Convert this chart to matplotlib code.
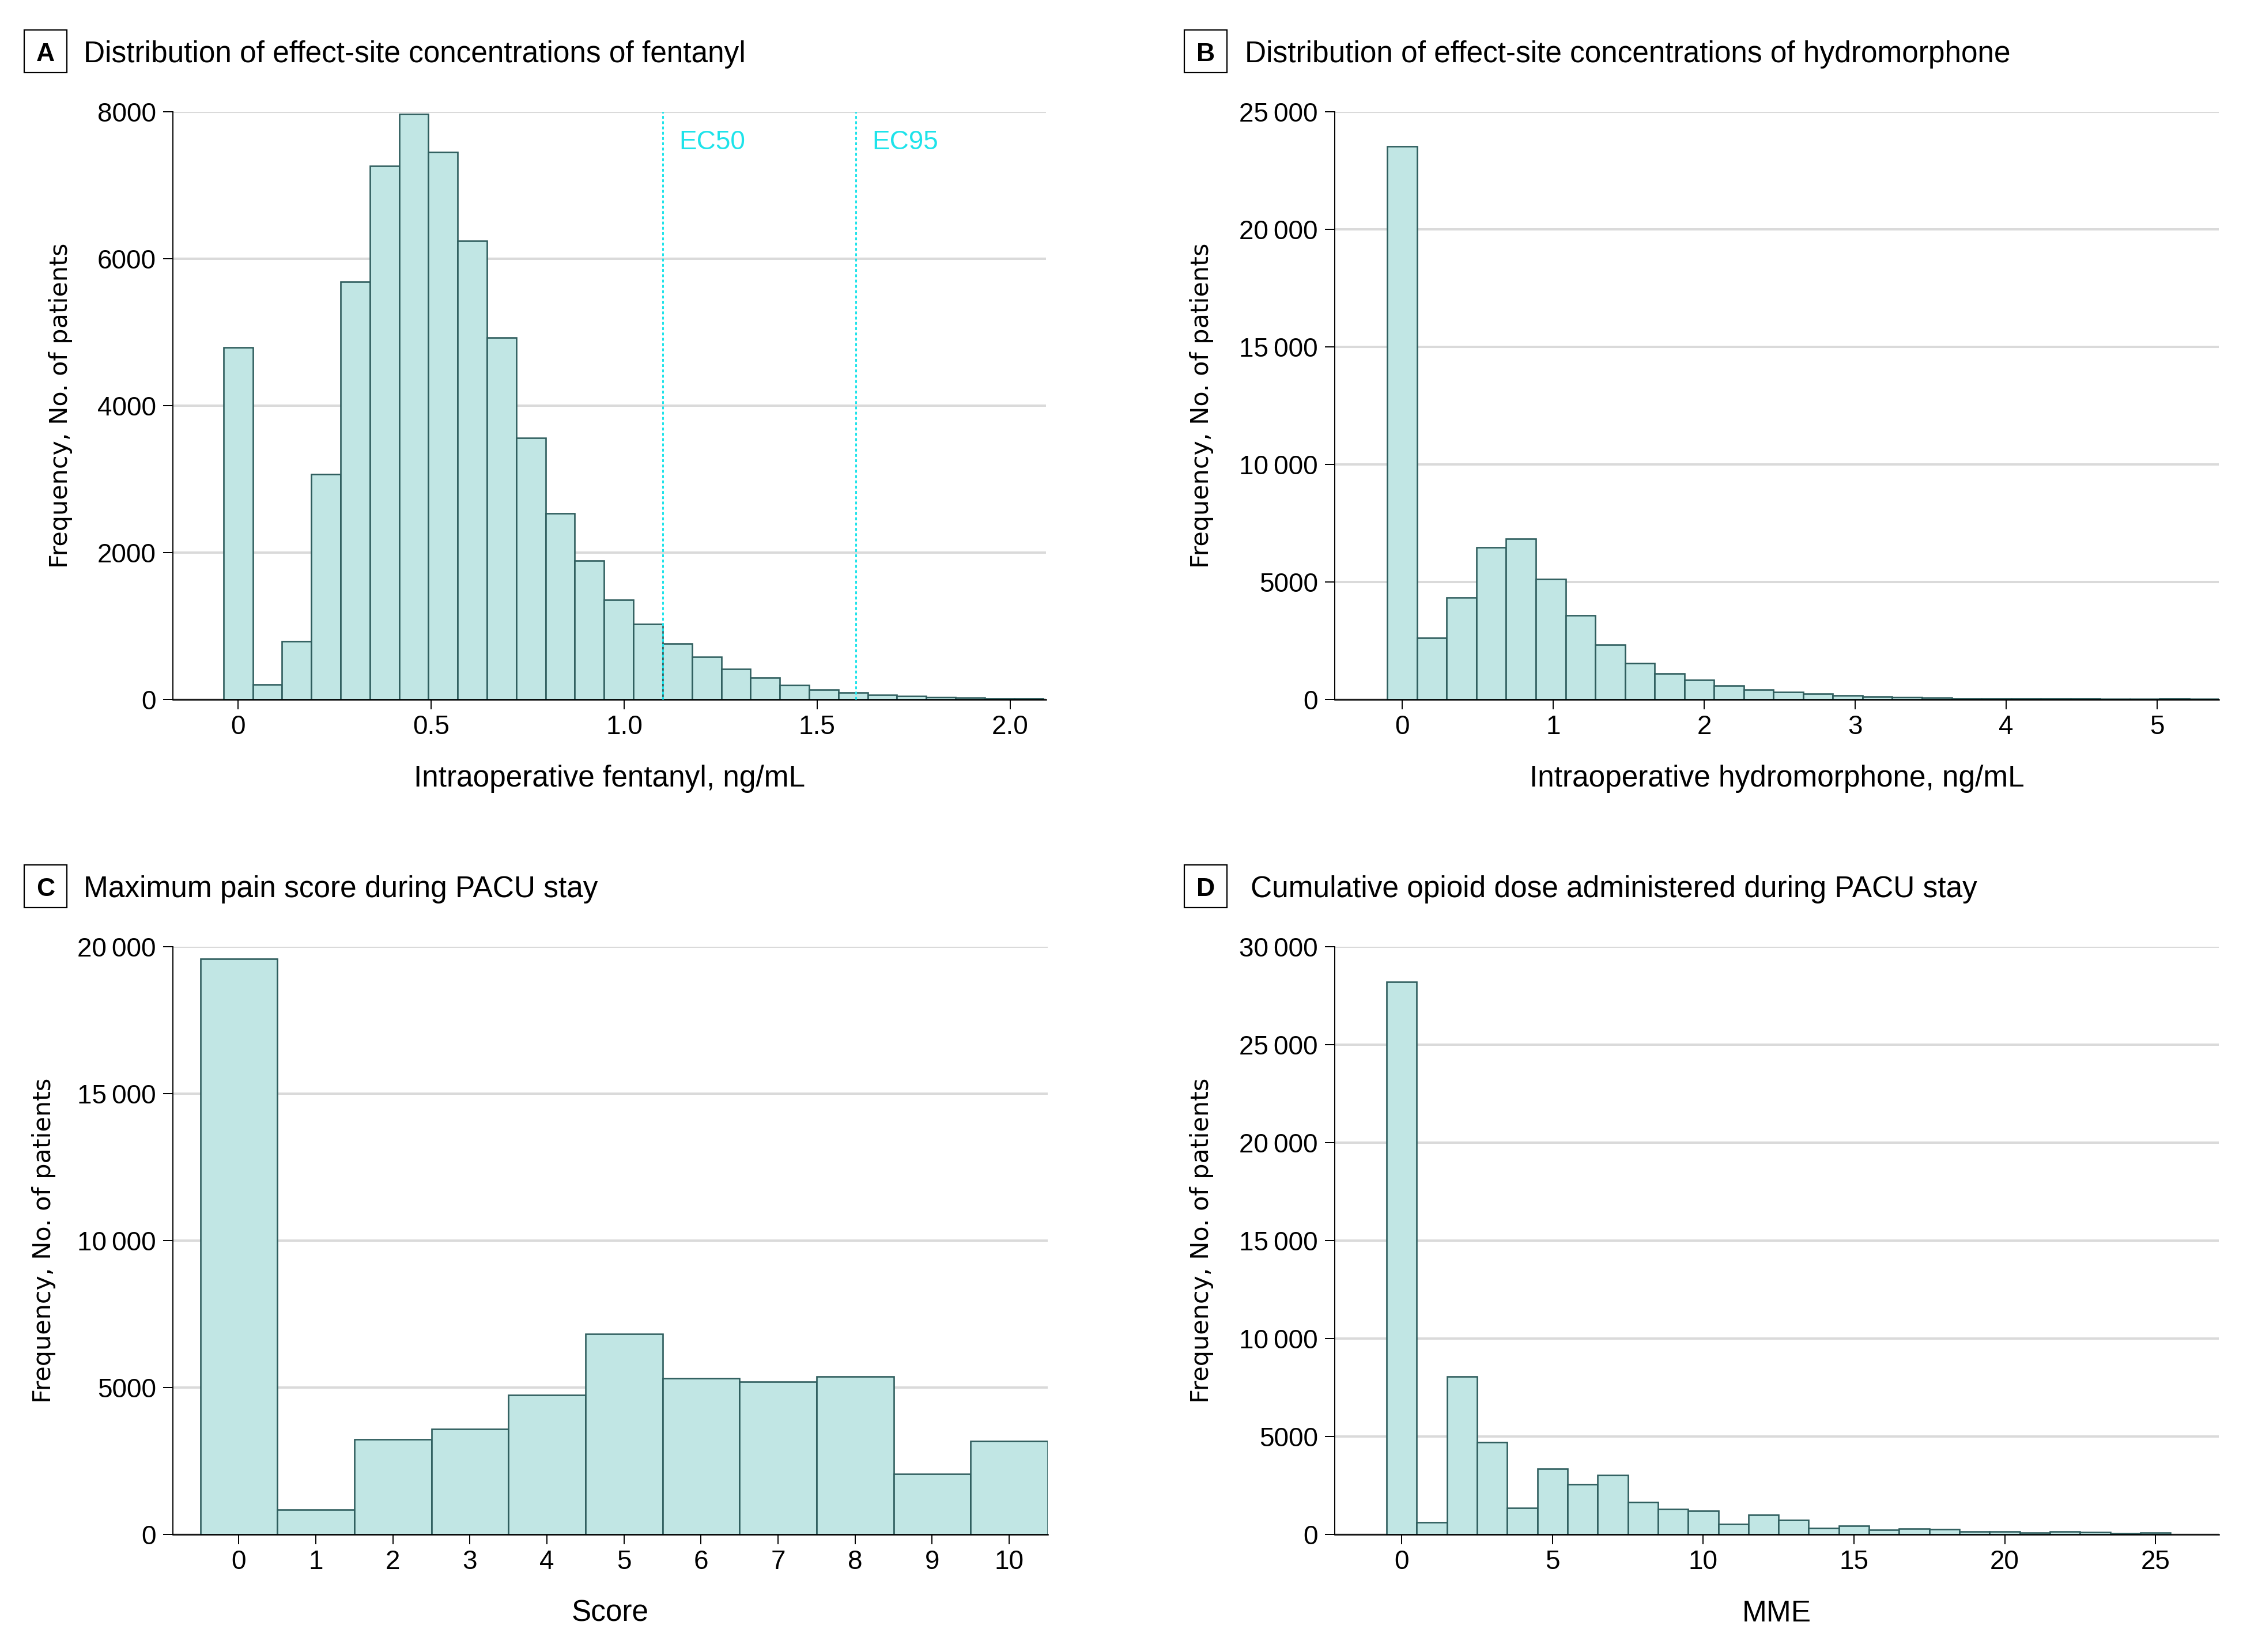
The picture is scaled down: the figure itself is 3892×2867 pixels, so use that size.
import matplotlib
matplotlib.use("Agg")
import matplotlib.pyplot as plt
import numpy as np
from matplotlib.patches import Rectangle

# ---------------- data ----------------
fentanyl_bin_width = 1.1 / 14.5
fentanyl_counts = [4790, 200, 790, 3063, 5685, 7259, 7965, 7448, 6245, 4923,
                   3559, 2531, 1890, 1357, 1029, 762, 584, 419, 296, 199,
                   134, 94, 65, 50, 31, 24, 16, 13]

hydromorphone_bin_width = 0.1967
hydromorphone_counts = [23530, 2620, 4330, 6470, 6840, 5120, 3580, 2320, 1550, 1095,
                        832, 585, 425, 311, 237, 180, 123, 106, 82, 50,
                        50, 60, 45, 45, 25, 30, 45, 20]

pain_scores = list(range(11))
pain_counts = [19580, 850, 3240, 3590, 4740, 6830, 5310, 5190, 5380, 2050, 3170]

mme_values = list(range(26))
mme_counts = [28220, 611, 8050, 4720, 1350, 3340, 2565, 3040, 1645, 1290,
              1210, 531, 995, 730, 314, 432, 226, 285, 275, 147,
              138, 79, 147, 108, 59, 79]

ec_values = [1.1, 1.6]
ec_labels = ["EC50", "EC95"]

titles = ["Distribution of effect-site concentrations of fentanyl",
          "Distribution of effect-site concentrations of hydromorphone",
          "Maximum pain score during PACU stay",
          "Cumulative opioid dose administered during PACU stay"]
letters = ["A", "B", "C", "D"]
xlabels = ["Intraoperative fentanyl, ng/mL",
           "Intraoperative hydromorphone, ng/mL",
           "Score", "MME"]
ylabel = "Frequency, No. of patients"

xticks_A = [0, 0.5, 1.0, 1.5, 2.0]
xticklabels_A = ["0", "0.5", "1.0", "1.5", "2.0"]
xticks_B = [0, 1, 2, 3, 4, 5]
xticks_C = list(range(11))
xticks_D = [0, 5, 10, 15, 20, 25]
yticks_A = [0, 2000, 4000, 6000, 8000]
yticks_B = [0, 5000, 10000, 15000, 20000, 25000]
yticks_C = [0, 5000, 10000, 15000, 20000]
yticks_D = [0, 5000, 10000, 15000, 20000, 25000, 30000]

# ---------------- style ----------------
W, H = 3892, 2867
SANS = ["Liberation Sans", "DejaVu Sans"]
FILL = "#C1E6E4"
EDGE = "#2F5E5E"
GRID = "#DADADA"
CYAN = "#1EE3EA"

fig = plt.figure(figsize=(W / 100, H / 100), dpi=100)


def fx(px):
    return px / W


def fy(py):
    return 1 - py / H


def fmt(v):
    s = f"{v:d}"
    if v >= 10000:
        s = s[:-3] + "\u2009" + s[-3:]
    return s


def make_axes(left, right, top, bottom):
    return fig.add_axes([fx(left), fy(bottom), (right - left) / W, (bottom - top) / H])


def style(ax, xlim, ylim, xticks, xticklabels, yticks):
    ax.set_xlim(xlim)
    ax.set_ylim(ylim)
    ax.set_xticks(xticks)
    ax.set_xticklabels(xticklabels)
    ax.set_yticks(yticks)
    ax.set_yticklabels([fmt(v) for v in yticks])
    for s in ["top", "right"]:
        ax.spines[s].set_visible(False)
    ax.spines["left"].set_linewidth(1.4)
    ax.spines["bottom"].set_linewidth(1.8)
    ax.tick_params(axis="both", length=12, width=1.4, labelsize=33, color="black")
    ax.tick_params(axis="x", pad=7)
    ax.tick_params(axis="y", pad=9)
    for lab in ax.get_xticklabels() + ax.get_yticklabels():
        lab.set_family(SANS)
    ax.yaxis.grid(True, color=GRID, lw=2.9)
    ax.xaxis.grid(False)
    ax.set_axisbelow(True)


def header(letter, title, box_left, title_left, top_off):
    fig.add_artist(Rectangle((fx(box_left), fy(126 + top_off)), 74 / W, 74 / H,
                             transform=fig.transFigure, fill=False,
                             ec="black", lw=1.6))
    fig.text(fx(box_left + 37), fy(106 + top_off), letter, fontsize=32,
             weight="bold", ha="center", va="baseline", family=SANS)
    fig.text(fx(title_left), fy(108 + top_off), title, fontsize=37,
             ha="left", va="baseline", family=SANS)


# panel geometry in pixels
rowA = (194, 1214)
rowC = (1643, 2663)
off = 1449
BAR_LW = 1.9

# ---- A ----
axA = make_axes(300, 1815, *rowA)
cA = np.arange(len(fentanyl_counts)) * fentanyl_bin_width
axA.bar(cA, fentanyl_counts, width=fentanyl_bin_width, color=FILL,
        edgecolor=EDGE, linewidth=BAR_LW, zorder=1)
style(axA, (-0.169, 2.093), (0, 8000), xticks_A, xticklabels_A, yticks_A)
for v, lab in zip(ec_values, ec_labels):
    axA.axvline(v, color=CYAN, lw=2.2, ls=(0, (1.6, 1.4)), zorder=3)
    axA.text(v + 0.042, 7490, lab, color=CYAN, fontsize=33, va="baseline",
             ha="left", family=SANS)

# ---- B ----
axB = make_axes(2316, 3850, *rowA)
cB = np.arange(len(hydromorphone_counts)) * hydromorphone_bin_width
axB.bar(cB, hydromorphone_counts, width=hydromorphone_bin_width, color=FILL,
        edgecolor=EDGE, linewidth=BAR_LW, zorder=1)
style(axB, (-0.447, 5.408), (0, 25000), xticks_B, [str(v) for v in xticks_B], yticks_B)

# ---- C ----
axC = make_axes(300, 1818, *rowC)
axC.bar(pain_scores, pain_counts, width=1.0, color=FILL, edgecolor=EDGE,
        linewidth=BAR_LW, zorder=1)
style(axC, (-0.856, 10.5), (0, 20000), xticks_C, [str(v) for v in xticks_C], yticks_C)

# ---- D ----
axD = make_axes(2316, 3850, *rowC)
axD.bar(mme_values, mme_counts, width=1.0, color=FILL, edgecolor=EDGE,
        linewidth=BAR_LW, zorder=1)
style(axD, (-2.22, 27.1), (0, 30000), xticks_D, [str(v) for v in xticks_D], yticks_D)

# ---- headers ----
header(letters[0], titles[0], 42, 145, 0)
header(letters[1], titles[1], 2055, 2160, 0)
header(letters[2], titles[2], 42, 145, off)
header(letters[3], titles[3], 2055, 2170, off)

# ---- axis labels ----
fig.text(fx((300 + 1815) / 2), fy(1365), xlabels[0], fontsize=37, ha="center",
         va="baseline", family=SANS)
fig.text(fx((2316 + 3850) / 2), fy(1365), xlabels[1], fontsize=37, ha="center",
         va="baseline", family=SANS)
fig.text(fx((300 + 1818) / 2), fy(1365 + off), xlabels[2], fontsize=37, ha="center",
         va="baseline", family=SANS)
fig.text(fx((2316 + 3850) / 2), fy(1365 + off), xlabels[3], fontsize=37, ha="center",
         va="baseline", family=SANS)

for cx, cy in [(105, 704), (2085, 704), (76, 704 + off), (2085, 704 + off)]:
    fig.text(fx(cx), fy(cy), ylabel, rotation=90, ha="center", va="center",
             fontsize=31, family=["DejaVu Sans"])

fig.savefig("out.png", dpi=100, facecolor="white")
